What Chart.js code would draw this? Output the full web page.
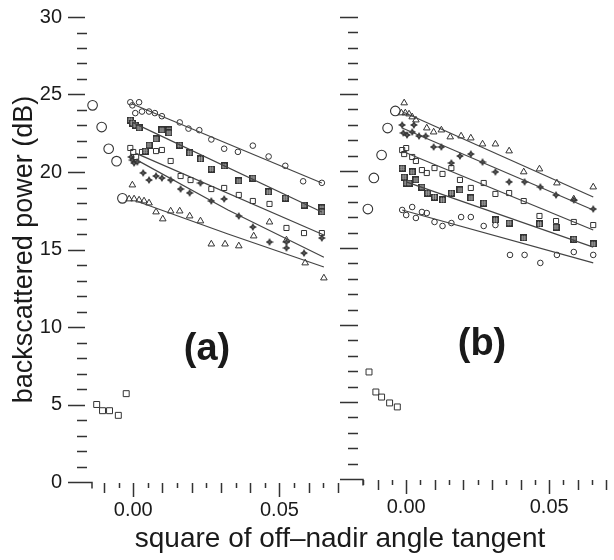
<!DOCTYPE html>
<html>
<head>
<meta charset="utf-8">
<script src="https://cdn.jsdelivr.net/npm/chart.js@4.4.1/dist/chart.umd.min.js"></script>
<style>
  html, body { margin: 0; padding: 0; background: #fff; }
  #wrap { position: relative; width: 614px; height: 560px; overflow: hidden; font-family: "Liberation Sans", Arial, sans-serif; color: #1a1a1a; }
  #boxA { position: absolute; left: 0; top: 0; width: 345px; height: 560px; }
  #boxB { position: absolute; left: 335px; top: 0; width: 279px; height: 560px; }
  .tag { position: absolute; font-weight: bold; font-size: 38px; line-height: 38px; transform: translateX(-50%); white-space: nowrap; }
  #xtitle { position: absolute; left: 340px; top: 524px; font-size: 28px; line-height: 28px; transform: translateX(-50%); white-space: nowrap; }
</style>
</head>
<body>
<div id="wrap">
  <div id="boxA"><canvas id="chartA"></canvas></div>
  <div id="boxB"><canvas id="chartB"></canvas></div>
  <div class="tag" style="left:207px; top:328px;">(a)</div>
  <div class="tag" style="left:482px; top:323px;">(b)</div>
  <div id="xtitle">square of off–nadir angle tangent</div>
</div>
<script>
// tick labels
const yLabelValues = [0, 5, 10, 15, 20, 25, 30];
const xLabelValues = [0, 0.05];

// panel (a): [tan^2, dB]
const aBigCircles = [[-0.0139,24.3],[-0.0108,22.9],[-0.0084,21.5],[-0.0057,20.7],[-0.0037,18.3]];
const aLowSquares = [[-0.0125,5.0],[-0.0105,4.6],[-0.0081,4.6],[-0.0051,4.3],[-0.0024,5.7]];
const aCircles = [[-0.0010,24.5],[-0.0003,24.3],[0.0020,24.5],[0.0007,23.8],[0.0030,23.9],[0.0054,23.9],[0.0074,23.8],[0.0098,23.6],[0.0159,23.2],[0.0189,22.8],[0.0226,22.7],[0.0267,22.1],[0.0311,21.5],[0.0358,21.3],[0.0409,21.7],[0.0463,21.0],[0.0520,20.4],[0.0581,19.4],[0.0645,19.3]];
const aHash = [[-0.0010,23.35],[-0.0003,23.16],[0.0007,23.03],[0.0020,22.84],[0.0098,22.71],[0.0122,22.71],[0.0122,22.52],[0.0078,22.13],[0.0054,21.74],[0.0041,21.35],[0.0159,21.74],[0.0193,21.23],[0.0230,20.84],[0.0267,20.19],[0.0311,20.39],[0.0361,19.42],[0.0409,19.61],[0.0463,18.71],[0.0520,18.32],[0.0584,17.87],[0.0645,17.68],[0.0645,17.42]];
const aSquares = [[-0.0010,21.55],[0.0000,21.29],[0.0010,20.97],[0.0030,21.29],[0.0078,21.35],[0.0098,21.42],[0.0128,20.71],[0.0162,19.74],[0.0196,19.48],[0.0267,18.90],[0.0311,18.97],[0.0361,18.52],[0.0409,18.13],[0.0466,17.94],[0.0524,16.39],[0.0584,16.06],[0.0645,16.06]];
const aStars = [[-0.0007,20.97],[-0.0003,20.77],[0.0003,20.58],[0.0014,20.65],[0.0034,19.94],[0.0054,19.48],[0.0078,19.74],[0.0098,19.61],[0.0128,19.48],[0.0162,18.90],[0.0193,18.65],[0.0230,19.29],[0.0267,18.13],[0.0311,18.26],[0.0361,17.16],[0.0409,16.45],[0.0466,15.48],[0.0524,15.48],[0.0524,15.10],[0.0584,14.77],[0.0645,15.74]];
const aTriangles = [[-0.0003,19.16],[-0.0014,18.26],[0.0003,18.26],[0.0020,18.19],[0.0037,18.13],[0.0054,18.00],[0.0078,17.42],[0.0101,16.97],[0.0128,17.48],[0.0159,17.48],[0.0193,17.16],[0.0230,16.84],[0.0267,15.35],[0.0314,15.35],[0.0361,15.23],[0.0412,15.87],[0.0466,16.77],[0.0524,15.61],[0.0588,14.13],[0.0652,13.16]];
const aFitCircles = [[-0.0003,24.39],[0.0645,19.29]];
const aFitHash = [[-0.0003,23.2],[0.0645,17.42]];
const aFitSquares = [[0.0010,21.2],[0.0652,15.94]];
const aFitStars = [[0.0010,20.8],[0.0324,17.55],[0.0652,14.5]];
const aFitTriangles = [[0.0015,18.1],[0.0324,16.0],[0.0652,13.87]];

// panel (b)
const bBigCircles = [[-0.0134,17.53],[-0.0113,19.55],[-0.0086,21.04],[-0.0065,22.79],[-0.0038,23.90]];
const bLowSquares = [[-0.0130,6.95],[-0.0106,5.65],[-0.0086,5.32],[-0.0058,4.94],[-0.0031,4.68]];
const bTriangles = [[-0.0007,24.42],[-0.0017,23.77],[-0.0003,23.77],[0.0010,23.70],[0.0021,23.51],[0.0034,23.31],[0.0072,22.79],[0.0096,22.53],[0.0123,22.66],[0.0154,22.21],[0.0192,22.27],[0.0226,22.14],[0.0267,21.75],[0.0312,21.75],[0.0360,21.30],[0.0411,19.94],[0.0466,20.13],[0.0527,19.22],[0.0586,18.18],[0.0654,18.96]];
const bStars = [[-0.0014,22.99],[-0.0010,22.47],[0.0003,22.34],[0.0021,22.53],[0.0027,22.99],[0.0045,22.27],[0.0068,22.27],[0.0096,21.56],[0.0123,21.56],[0.0158,20.52],[0.0188,20.97],[0.0226,21.10],[0.0267,20.58],[0.0312,19.94],[0.0360,19.29],[0.0414,19.29],[0.0469,18.96],[0.0524,18.44],[0.0586,18.12],[0.0654,17.53]];
const bSquares = [[-0.0014,21.36],[0.0000,21.49],[-0.0007,21.10],[0.0021,20.91],[0.0034,20.65],[0.0055,20.06],[0.0072,19.87],[0.0099,20.19],[0.0127,19.81],[0.0158,20.19],[0.0188,19.42],[0.0226,18.90],[0.0271,19.22],[0.0312,18.51],[0.0360,18.57],[0.0411,18.05],[0.0466,17.08],[0.0524,16.75],[0.0586,16.69],[0.0654,16.49]];
const bHash = [[-0.0014,20.19],[-0.0007,19.61],[0.0000,19.22],[0.0010,19.22],[0.0021,19.94],[0.0034,19.42],[0.0055,18.96],[0.0075,18.57],[0.0099,18.31],[0.0127,18.12],[0.0158,18.57],[0.0188,18.77],[0.0226,18.25],[0.0271,17.92],[0.0312,16.82],[0.0360,16.62],[0.0411,15.65],[0.0466,16.56],[0.0524,16.36],[0.0586,15.58],[0.0654,15.26]];
const bCircles = [[-0.0014,17.47],[0.0000,17.14],[0.0021,17.66],[0.0034,16.95],[0.0055,17.34],[0.0072,17.27],[0.0099,16.69],[0.0127,16.43],[0.0158,16.62],[0.0192,17.01],[0.0226,17.01],[0.0271,16.43],[0.0312,16.49],[0.0363,14.55],[0.0414,14.55],[0.0469,14.03],[0.0527,14.55],[0.0586,14.74],[0.0654,14.55]];
const bFitTriangles = [[-0.0007,23.8],[0.0654,18.31]];
const bFitStars = [[-0.0014,22.79],[0.0654,17.47]];
const bFitSquares = [[-0.0007,21.23],[0.0654,16.17]];
const bFitHash = [[0.0000,19.29],[0.0654,15.06]];
const bFitCircles = [[-0.0014,17.47],[0.0654,14.03]];

const INK = '#333';

function hashMarker() {
  const c = document.createElement('canvas');
  c.width = 7; c.height = 7;
  const g = c.getContext('2d');
  g.fillStyle = INK;
  g.fillRect(0, 0, 7, 7);
  g.fillStyle = '#9a9a9a';
  g.fillRect(2, 1, 1, 5); g.fillRect(4, 1, 1, 5);
  g.fillRect(1, 2, 5, 1); g.fillRect(1, 4, 5, 1);
  return c;
}

function starMarker() {
  const c = document.createElement('canvas');
  c.width = 8; c.height = 8;
  const g = c.getContext('2d');
  g.fillStyle = INK;
  g.beginPath();
  g.moveTo(4, 0); g.lineTo(5.4, 2.6); g.lineTo(8, 4); g.lineTo(5.4, 5.4);
  g.lineTo(4, 8); g.lineTo(2.6, 5.4); g.lineTo(0, 4); g.lineTo(2.6, 2.6);
  g.closePath();
  g.fill();
  g.fillStyle = '#bbb';
  g.fillRect(3.5, 3.5, 1, 1);
  return c;
}

const HASH = hashMarker();
const STAR = starMarker();
const pts = arr => arr.map(p => ({ x: p[0], y: p[1] }));

function marks(arr, style, r, bw) {
  return {
    data: pts(arr), pointStyle: style, pointRadius: r, borderWidth: bw || 1,
    borderColor: INK, backgroundColor: 'rgba(255,255,255,0)', showLine: false, clip: false
  };
}
function fit(arr) {
  return {
    data: pts(arr), showLine: true, pointRadius: 0, borderColor: '#444',
    borderWidth: 1.2, fill: false, clip: false
  };
}

// dash ticks drawn off the scales (major/minor), no axis spines
const tickMarks = {
  id: 'tickMarks',
  afterDraw(chart, args, o) {
    const { ctx, chartArea: { left, bottom } } = chart;
    const xs = chart.scales.x, ys = chart.scales.y;
    ctx.save();
    ctx.strokeStyle = INK;
    ctx.lineWidth = 1.5;
    ctx.beginPath();
    ys.ticks.forEach(t => {
      const py = Math.round(ys.getPixelForValue(t.value)) + 0.5;
      if (t.value === 0) {
        ctx.moveTo(left - o.major[0], py); ctx.lineTo(left, py); ctx.lineTo(left, py + 6);
      } else if (t.value % 5 === 0) {
        ctx.moveTo(left - o.major[0], py); ctx.lineTo(left - o.major[1], py);
      } else {
        ctx.moveTo(left - o.minor[0], py); ctx.lineTo(left - o.minor[1], py);
      }
    });
    xs.ticks.forEach(t => {
      const k = t.value / 0.005;
      if (Math.abs(k - Math.round(k)) > 1e-6) return;
      const n = Math.round(k);
      const len = n % 10 === 0 ? 14 : (n % 2 === 0 ? 10 : 5);
      const px = Math.round(xs.getPixelForValue(t.value)) + 0.5;
      ctx.moveTo(px, bottom + 1); ctx.lineTo(px, bottom + 1 + len);
    });
    ctx.stroke();
    ctx.restore();
  }
};

function noPad(s) {
  s.paddingTop = 0; s.paddingBottom = 0; s.paddingLeft = 0; s.paddingRight = 0;
}

function scales(xmin, xmax, yWidth, showY) {
  return {
    x: {
      type: 'linear', min: xmin, max: xmax,
      grid: { display: false, drawTicks: false }, border: { display: false },
      afterFit: s => { s.height = 40; noPad(s); },
      ticks: {
        stepSize: 0.005, includeBounds: false, autoSkip: false, maxRotation: 0, maxTicksLimit: 100,
        padding: 16, color: '#1a1a1a',
        font: { family: '"Liberation Sans", Arial, sans-serif', size: 20 },
        callback: v => xLabelValues.some(l => Math.abs(l - v) < 1e-9) ? v.toFixed(2) : ''
      }
    },
    y: {
      type: 'linear', min: 0, max: 30,
      grid: { display: false, drawTicks: false }, border: { display: false },
      afterFit: s => { s.width = yWidth; noPad(s); },
      title: {
        display: showY, text: 'backscattered power (dB)', color: '#1a1a1a',
        padding: { top: 8 },
        font: { family: '"Liberation Sans", Arial, sans-serif', size: 27 }
      },
      ticks: {
        stepSize: 1, autoSkip: false, maxTicksLimit: 100, padding: 30, color: '#1a1a1a',
        font: { family: '"Liberation Sans", Arial, sans-serif', size: 20 },
        callback: v => (showY && yLabelValues.includes(v)) ? String(v) : ''
      }
    }
  };
}

function makeChart(id, sets, xmin, xmax, yWidth, showY, pad, ticks) {
  return new Chart(document.getElementById(id), {
    type: 'scatter',
    data: { datasets: sets },
    options: {
      responsive: true, maintainAspectRatio: false, animation: false, events: [],
      layout: { padding: pad },
      plugins: { legend: { display: false }, tooltip: { enabled: false }, tickMarks: ticks },
      scales: scales(xmin, xmax, yWidth, showY)
    },
    plugins: [tickMarks]
  });
}

makeChart('chartA', [
  fit(aFitCircles), fit(aFitHash), fit(aFitSquares), fit(aFitStars), fit(aFitTriangles),
  marks(aBigCircles, 'circle', 4.8, 1.1),
  marks(aLowSquares, 'rect', 4.2),
  marks(aCircles, 'circle', 2.8),
  marks(aHash, HASH, 4),
  marks(aSquares, 'rect', 3.6),
  marks(aStars, STAR, 4),
  marks(aTriangles, 'triangle', 3.8)
], -0.0141, 0.0704, 92, true, { top: 17, bottom: 38, left: 0, right: 3 }, { major: [24, 7], minor: [15, 5] });

makeChart('chartB', [
  fit(bFitTriangles), fit(bFitStars), fit(bFitSquares), fit(bFitHash), fit(bFitCircles),
  marks(bBigCircles, 'circle', 4.8, 1.1),
  marks(bLowSquares, 'rect', 4.2),
  marks(bTriangles, 'triangle', 3.8),
  marks(bStars, STAR, 4),
  marks(bSquares, 'rect', 3.6),
  marks(bHash, HASH, 4),
  marks(bCircles, 'circle', 2.8)
], -0.0151, 0.0706, 28, false, { top: 17, bottom: 41, left: 0, right: 1 }, { major: [23, 5], minor: [15, 5] });
</script>
</body>
</html>
